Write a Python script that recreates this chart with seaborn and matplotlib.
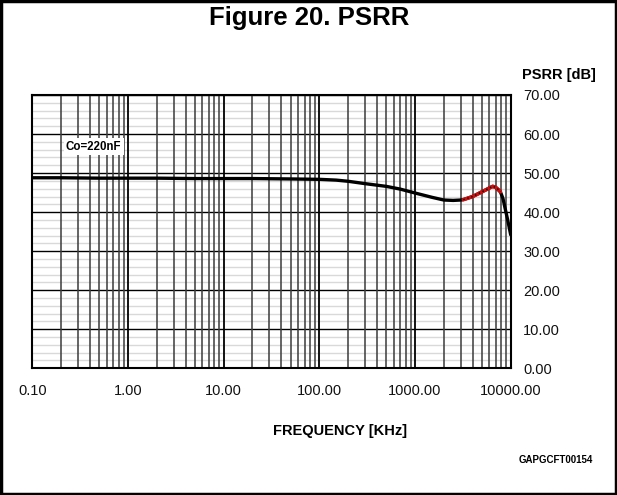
import numpy as np
import pandas as pd
import matplotlib
matplotlib.use("Agg")
import matplotlib.pyplot as plt
from matplotlib.patches import Rectangle
from matplotlib.ticker import FixedLocator, NullFormatter
import seaborn as sns

sns.set_theme(style="white")
plt.rcParams['font.family'] = ['Liberation Sans', 'DejaVu Sans']
plt.rcParams['text.color'] = 'black'

# data (frequency in kHz, PSRR in dB)
freq_main = [0.1, 0.2, 0.5, 1, 2, 5, 10, 20, 50, 100, 150, 200, 300, 500, 700,
             1000, 1500, 2000, 2500, 3000, 3200, 4000, 5000, 6000, 6500, 7000,
             7800, 8300, 8700, 9300, 10000]
psrr_main = [48.8, 48.8, 48.7, 48.7, 48.7, 48.6, 48.6, 48.6, 48.5, 48.4, 48.2,
             47.9, 47.3, 46.6, 45.9, 44.9, 43.8, 43.1, 43.0, 43.1, 43.2, 44.0,
             45.2, 46.2, 46.6, 46.3, 45.2, 43.5, 41.2, 38.0, 34.2]
freq_red = [3200, 3600, 4000, 4500, 5000, 5500, 6000, 6500, 7000, 7500, 7800]
psrr_red = [43.2, 43.6, 44.0, 44.6, 45.2, 45.7, 46.2, 46.6, 46.3, 45.7, 45.2]

x_decades = [0.1, 1, 10, 100, 1000, 10000]
x_labels = ["0.10", "1.00", "10.00", "100.00", "1000.00", "10000.00"]
y_major = [0, 10, 20, 30, 40, 50, 60, 70]
y_labels = ["0.00", "10.00", "20.00", "30.00", "40.00", "50.00", "60.00", "70.00"]

df_main = pd.DataFrame({"f": freq_main, "p": psrr_main})
df_red = pd.DataFrame({"f": freq_red, "p": psrr_red})

W, H = 617, 495
fig = plt.figure(figsize=(W / 100, H / 100), dpi=100)
fig.patch.set_facecolor("white")
fig.patches.append(Rectangle((0.002, 0.002), 0.996, 0.996, transform=fig.transFigure,
                             fill=False, lw=2.5, ec="black"))

left, right, top, bottom = 32.3, 510.7, 95, 368.3
ax = fig.add_axes([left / W, 1 - bottom / H, (right - left) / W, (bottom - top) / H])
ax.set_facecolor("white")

ax.set_xscale("log")
ax.set_xlim(0.1, 10000)
ax.set_ylim(0, 70)

# grid
minor_x = [m * d for d in [0.1, 1, 10, 100, 1000] for m in range(2, 10)]
ax.xaxis.set_major_locator(FixedLocator(x_decades))
ax.xaxis.set_minor_locator(FixedLocator(minor_x))
ax.set_xticklabels(x_labels)
ax.xaxis.set_minor_formatter(NullFormatter())
ax.yaxis.set_major_locator(FixedLocator(y_major))
ax.yaxis.set_minor_locator(FixedLocator([v for v in range(0, 71, 2) if v % 10]))
ax.set_yticklabels(y_labels)
ax.yaxis.tick_right()

ax.grid(which="minor", axis="y", color="#d9d9d9", lw=1.0, linestyle="-")
ax.grid(which="major", axis="y", color="black", lw=1.0, linestyle="-")
ax.grid(which="minor", axis="x", color="#3a3a3a", lw=1.1, linestyle="-")
ax.grid(which="major", axis="x", color="black", lw=1.3, linestyle="-")
ax.set_axisbelow(True)
ax.yaxis.set_zorder(0.3)
ax.xaxis.set_zorder(0.6)

ax.tick_params(which="both", length=0)
ax.tick_params(axis="x", labelsize=10.5, pad=11, colors="#111111")
ax.tick_params(axis="y", labelsize=10.5, pad=9, colors="#111111")
for s in ax.spines.values():
    s.set_visible(True)
    s.set_color("black")
    s.set_linewidth(1.5)
    s.set_zorder(3)

sns.lineplot(data=df_main, x="f", y="p", ax=ax, color="black", lw=2.4, legend=False)
sns.lineplot(data=df_red, x="f", y="p", ax=ax, color="#d01010", lw=2.6, legend=False)
sns.lineplot(data=df_red, x="f", y="p", ax=ax, color="black", lw=1.0,
             linestyle=(0, (1, 2)), legend=False)
ax.set_xlabel("")
ax.set_ylabel("")

ax.text(0.225, 56.8, "Co=220nF", fontsize=8.3, fontweight="bold", ha="left", va="center",
        bbox=dict(facecolor="white", edgecolor="none", pad=1.5), zorder=4)

fig.text(309 / W, 1 - 18 / H, "Figure 20. PSRR", fontsize=18.5, fontweight="bold",
         ha="center", va="center")
fig.text(559 / W, 1 - 75 / H, "PSRR [dB]", fontsize=10.5, fontweight="bold",
         ha="center", va="center")
fig.text(340 / W, 1 - 431 / H, "FREQUENCY [KHz]", fontsize=10.5, fontweight="bold",
         ha="center", va="center")
fig.text(556 / W, 1 - 460 / H, "GAPGCFT00154", fontsize=7, fontweight="bold",
         ha="center", va="center")

fig.savefig("out.png", dpi=100)
